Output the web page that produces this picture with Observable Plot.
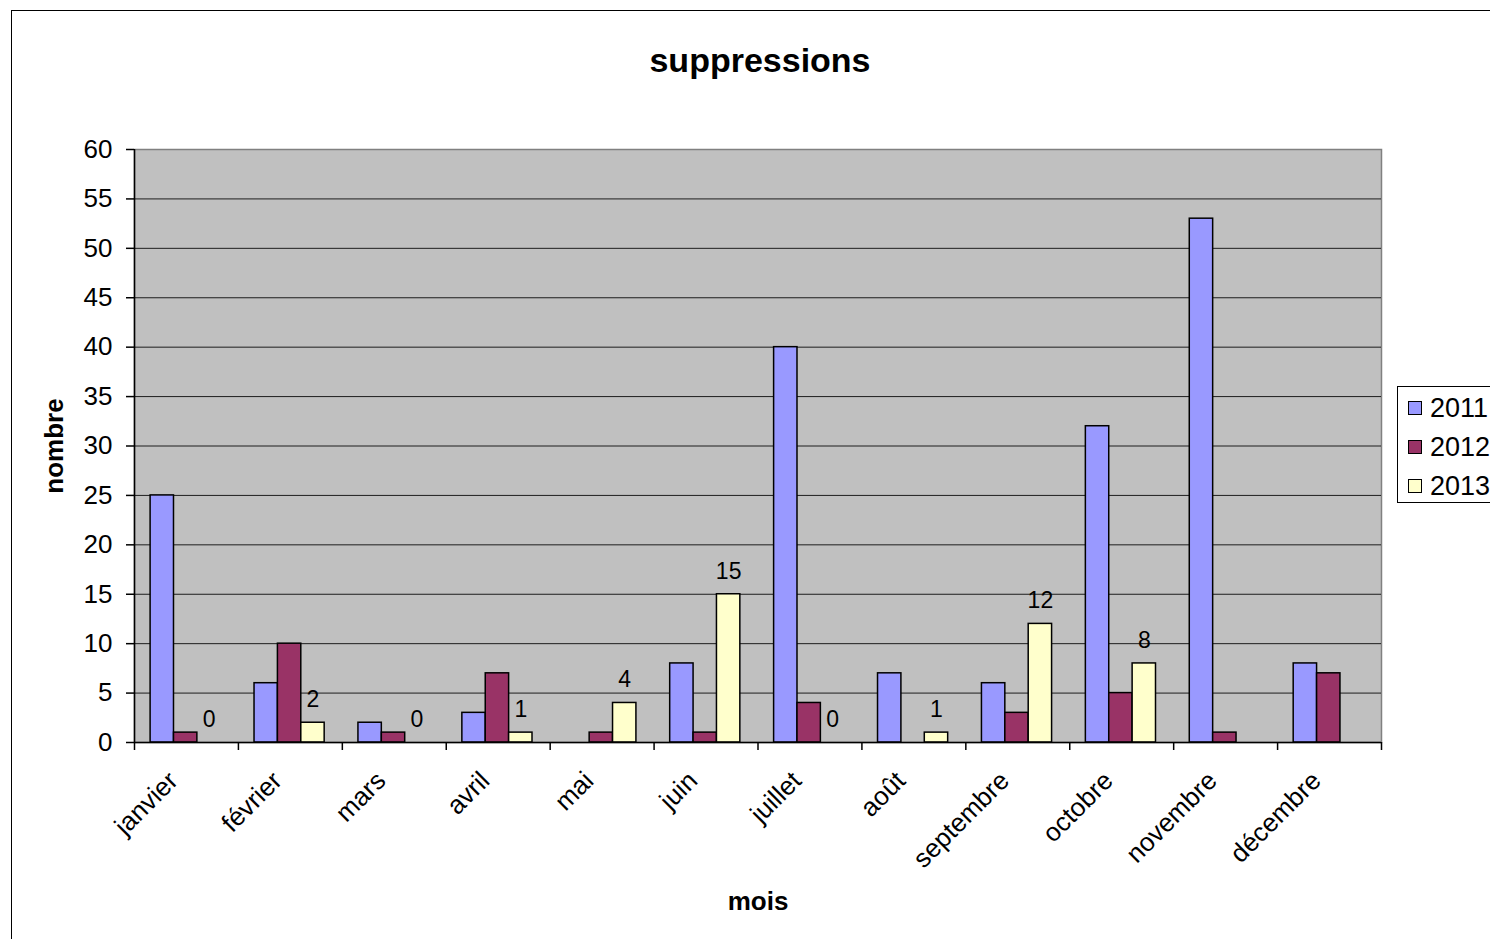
<!DOCTYPE html>
<html>
<head>
<meta charset="utf-8">
<script src="https://cdn.jsdelivr.net/npm/d3@7"></script>
<script src="https://cdn.jsdelivr.net/npm/@observablehq/plot@0.6"></script>
<style>
  html, body { margin: 0; padding: 0; background: #fff; overflow: hidden; width: 1490px; height: 939px; }
  body { position: relative; font-family: "Liberation Sans", Arial, sans-serif; }
  #chart { position: absolute; left: 0; top: 0; }
  #border { position: absolute; left: 11px; top: 10px; width: 1600px; height: 1000px; border: 1.5px solid #000; box-sizing: border-box; pointer-events: none; }
  #title { position: absolute; left: 0; width: 1520px; top: 41px; text-align: center; font-weight: bold; font-size: 34px; color: #000; }
  #legend { position: absolute; left: 1397px; top: 386px; width: 140px; height: 117px; border: 1px solid #000; box-sizing: border-box; background: #fff; }
  .row { position: absolute; left: 10px; height: 30px; display: flex; align-items: center; font-size: 27px; color: #000; }
  .sw { width: 12px; height: 12px; border: 1.5px solid #000; margin-right: 8px; }
</style>
</head>
<body>
<div id="chart"></div>
<div id="title">suppressions</div>
<div id="legend"></div>
<div id="border"></div>
<script>
const months = ["janvier","février","mars","avril","mai","juin","juillet","août","septembre","octobre","novembre","décembre"];
const years = ["2011","2012","2013"];
const v2011 = [25, 6, 2, 3, null, 8, 40, 7, 6, 32, 53, 8];
const v2012 = [1, 10, 1, 7, 1, 1, 4, null, 3, 5, 1, 7];
const v2013 = [0, 2, 0, 1, 4, 15, 0, 1, 12, 8, null, null];
const yTicks = [0, 5, 10, 15, 20, 25, 30, 35, 40, 45, 50, 55, 60];
const colors = ["#9999FF", "#993366", "#FFFFCC"];
const xTitle = "mois", yTitle = "nombre";

const series = [v2011, v2012, v2013];
const rows = years.map((y, i) => months.map((m, j) => ({month: m, year: y, value: series[i][j]})).filter(d => d.value != null));

const W = 1490, H = 939;
const ml = 134, mt = 149, mr = 109, mb = 197;
const pw = W - ml - mr, ph = H - mt - mb;
const bw = pw / months.length;
const off0 = bw * 0.155, bwid = bw * 0.225;
const pxPerUnit = ph / 60;

const barMarks = years.map((y, i) => {
  const l = off0 + i * bwid;
  return Plot.barY(rows[i], {
    x: "month", y: "value", fill: colors[i], stroke: "#000", strokeWidth: 1.5,
    insetLeft: l, insetRight: bw - l - bwid
  });
});

const labelDx = off0 + 2.5 * bwid - bw / 2;

const chart = Plot.plot({
  width: W, height: H,
  marginLeft: ml, marginTop: mt, marginRight: mr, marginBottom: mb,
  style: {fontFamily: "'Liberation Sans', Arial, sans-serif", fontSize: "26px", color: "#000", background: "transparent"},
  x: {domain: months, padding: 0, round: false},
  y: {domain: [0, 60]},
  marks: [
    Plot.frame({fill: "#C0C0C0", stroke: "#808080", strokeWidth: 1.5}),
    Plot.gridY(yTicks.slice(1, -1), {stroke: "#000", strokeOpacity: 0.85, strokeWidth: 1}),
    ...barMarks,
    Plot.ruleY([0], {stroke: "#000", strokeWidth: 1.5}),
    Plot.ruleX([months[0]], {dx: -bw / 2, stroke: "#000", strokeWidth: 1.5}),
    Plot.ruleX(months, {dx: -bw / 2, y1: 0, y2: -8 / pxPerUnit, stroke: "#000", strokeWidth: 1.5}),
    Plot.ruleX([months[months.length - 1]], {dx: bw / 2, y1: 0, y2: -8 / pxPerUnit, stroke: "#000", strokeWidth: 1.5}),
    Plot.axisY(yTicks, {tickSize: 8, tickPadding: 14, fontSize: 26, label: null, strokeWidth: 1.5}),
    Plot.axisX({tickSize: 0, tickRotate: -45, tickPadding: 34, dx: -13, fontSize: 26, label: null}),
    Plot.text([yTitle], {frameAnchor: "left", text: d => d, rotate: -90, dx: -80, textAnchor: "middle", lineAnchor: "middle", fontSize: 26, fontWeight: "bold", fill: "#000"}),
    Plot.text([xTitle], {frameAnchor: "bottom", text: d => d, dy: 159, textAnchor: "middle", lineAnchor: "middle", fontSize: 26, fontWeight: "bold", fill: "#000"}),
    Plot.text(rows[2], {x: "month", y: "value", text: d => String(d.value), dx: labelDx, dy: -23, fontSize: 23, fill: "#000"})
  ]
});
document.getElementById("chart").appendChild(chart);

const legend = document.getElementById("legend");
years.forEach((y, i) => {
  const r = document.createElement("div");
  r.className = "row";
  r.style.top = (6 + i * 39) + "px";
  r.innerHTML = `<div class="sw" style="background:${colors[i]}"></div><span>${y}</span>`;
  legend.appendChild(r);
});
</script>
</body>
</html>
